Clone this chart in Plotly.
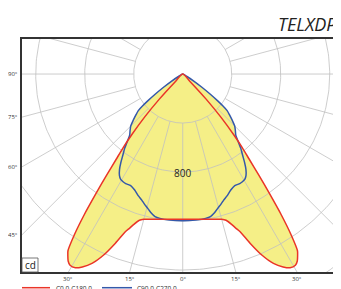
import numpy as np
import plotly.graph_objects as go

# ---------------- data ----------------
# C0-C180 plane (symmetric), gamma angle (deg) vs luminous intensity (cd)
gamma_c0 = [0, 4, 8, 12, 15, 16.5, 18, 19, 20, 21.7, 23.6, 25.6, 27.5, 29, 30.5,
            31.5, 32.3, 33, 34, 35, 36, 37, 38, 39, 40, 41.5, 43, 44.5, 45.5]
cd_c0 = [1186, 1189, 1198, 1212, 1228, 1245, 1290, 1330, 1370, 1486, 1612, 1714, 1775, 1808, 1812,
         1790, 1755, 1720, 1580, 1400, 1200, 1030, 880, 770, 650, 470, 280, 90, 0]

# C90-C270 plane (symmetric)
gamma_c90 = [0, 5, 9, 11, 13, 14.6, 16.5, 18, 20, 22.5, 25, 27.5, 29, 30.5, 32, 33.5, 35,
             36.5, 38, 39.5, 41, 43, 45, 47, 49, 50.5, 51.5, 52.5, 54, 55.5, 57.5, 60, 62]
cd_c90 = [1198, 1197, 1193, 1185, 1160, 1133, 1105, 1082, 1058, 1025, 1005, 1008, 1005, 998, 975, 935, 880,
          820, 770, 710, 660, 630, 600, 552, 505, 470, 420, 360, 270, 190, 110, 40, 0]

ring_values = [400, 800, 1200, 1600, 2000]
radial_step = 15
left_labels = [90, 75, 60, 45]
bottom_labels = [-30, -15, 0, 15, 30]
ring_label_value = 800
title_text = "TELXDP"
legend_names = ["C0.0-C180.0", "C90.0-C270.0"]
unit_text = "cd"

# ---------------- styling ----------------
OFF = 8  # page body margin
W, H = 341 - OFF, 289 - OFF
FRAME_L, FRAME_T, FRAME_B = 22, 39, 272   # page pixels
ML, MT, MB, MR = FRAME_L - OFF, FRAME_T - OFF, H - (FRAME_B - OFF), 0
X_MIN, X_MAX = -1312, 1292
Y_MIN, Y_MAX = -1616, 286
RED = "rgb(234,52,40)"
BLUE = "rgb(52,88,170)"
YELLOW = "rgb(245,239,135)"
GRID = "rgb(192,192,192)"
FONT = "Open Sans"

PW = W - ML - MR
PH = H - MT - MB


def px_x(px):
    return (px - OFF - ML) / PW


def px_y(py):
    return (H - MB - (py - OFF)) / PH


def closed_curve(g, v):
    g = np.asarray(g, float)
    v = np.asarray(v, float)
    ang = np.concatenate([-g[::-1], g[1:]])
    val = np.concatenate([v[::-1], v[1:]])
    rad = np.deg2rad(ang)
    return val * np.sin(rad), -val * np.cos(rad)


fig = go.Figure()

xr, yr = closed_curve(gamma_c0, cd_c0)
xb, yb = closed_curve(gamma_c90, cd_c90)

# fills (union)
for xs, ys in [(xr, yr), (xb, yb)]:
    fig.add_trace(go.Scatter(x=xs, y=ys, mode="lines", fill="toself", fillcolor=YELLOW,
                             line=dict(width=0, color=YELLOW, shape="spline", smoothing=0.6),
                             hoverinfo="skip", showlegend=False))

# grid: rings
gx, gy = [], []
t = np.deg2rad(np.arange(0, 361, 1))
for rv in ring_values:
    gx += list(rv * np.sin(t)) + [None]
    gy += list(-rv * np.cos(t)) + [None]
# grid: radials
for a in range(0, 360, radial_step):
    ar = np.deg2rad(a)
    gx += [ring_values[0] * np.sin(ar), 3000 * np.sin(ar), None]
    gy += [-ring_values[0] * np.cos(ar), -3000 * np.cos(ar), None]
fig.add_trace(go.Scatter(x=gx, y=gy, mode="lines", line=dict(color=GRID, width=0.8),
                         hoverinfo="skip", showlegend=False))

# outlines
fig.add_trace(go.Scatter(x=xb, y=yb, mode="lines",
                         line=dict(color=BLUE, width=1.5, shape="spline", smoothing=0.6),
                         name=legend_names[1], showlegend=False))
fig.add_trace(go.Scatter(x=xr, y=yr, mode="lines",
                         line=dict(color=RED, width=1.5, shape="spline", smoothing=0.6),
                         name=legend_names[0], showlegend=False))

annotations = []
# ring label
annotations.append(dict(x=0, y=-ring_label_value - 8, xref="x", yref="y", text=str(ring_label_value),
                        showarrow=False, xanchor="center", yanchor="middle",
                        font=dict(family=FONT, size=10, color="#222")))
# left angle labels
for a in left_labels:
    yv = X_MIN / np.tan(np.deg2rad(a)) if a != 90 else 0.0
    annotations.append(dict(x=0, y=yv, xref="paper", yref="y", text=f"{a}°", xanchor="right",
                            yanchor="middle", xshift=-2, showarrow=False,
                            font=dict(family=FONT, size=6, color="#333")))
# bottom labels
for a in bottom_labels:
    xv = -Y_MIN * np.tan(np.deg2rad(a))
    annotations.append(dict(x=xv, y=0, xref="x", yref="paper", text=f"{abs(a)}°", xanchor="center",
                            yanchor="top", yshift=-1, showarrow=False,
                            font=dict(family=FONT, size=6, color="#333")))
# title
annotations.append(dict(x=px_x(339), y=px_y(24.5), xref="paper", yref="paper", text=f"<i>{title_text}</i>",
                        xanchor="right", yanchor="middle", showarrow=False,
                        font=dict(family=FONT, size=18, color="#222")))
# unit box text
annotations.append(dict(x=px_x(30), y=px_y(265), xref="paper", yref="paper", text=unit_text,
                        xanchor="center", yanchor="middle", showarrow=False,
                        font=dict(family=FONT, size=10, color="#222")))
# legend texts
annotations.append(dict(x=px_x(54), y=px_y(288.6), xref="paper", yref="paper", text=legend_names[0],
                        xanchor="left", yanchor="middle", showarrow=False,
                        font=dict(family=FONT, size=6.5, color="#333")))
annotations.append(dict(x=px_x(135), y=px_y(288.6), xref="paper", yref="paper", text=legend_names[1],
                        xanchor="left", yanchor="middle", showarrow=False,
                        font=dict(family=FONT, size=6.5, color="#333")))

shapes = [
    dict(type="rect", xref="paper", yref="paper", x0=px_x(22), x1=px_x(38), y0=px_y(272), y1=px_y(258),
         line=dict(color="#555", width=0.8), fillcolor="white", layer="above"),
    dict(type="line", xref="paper", yref="paper", x0=px_x(22), x1=px_x(50), y0=px_y(287.7), y1=px_y(287.7),
         line=dict(color=RED, width=1.5)),
    dict(type="line", xref="paper", yref="paper", x0=px_x(102), x1=px_x(132), y0=px_y(287.7), y1=px_y(287.7),
         line=dict(color=BLUE, width=1.5)),
]

fig.update_layout(
    width=W, height=H, autosize=False,
    margin=dict(l=ML, r=MR, t=MT, b=MB, pad=0),
    plot_bgcolor="white", paper_bgcolor="white",
    xaxis=dict(range=[X_MIN, X_MAX], showgrid=False, zeroline=False, showticklabels=False, ticks="",
               showline=True, mirror=True, linecolor="#333", linewidth=1.5, fixedrange=True),
    yaxis=dict(range=[Y_MIN, Y_MAX], showgrid=False, zeroline=False, showticklabels=False, ticks="",
               showline=True, mirror=False, linecolor="#333", linewidth=1.5, fixedrange=True),
    annotations=annotations, shapes=shapes, showlegend=False,
)

fig.write_html("out.html")
